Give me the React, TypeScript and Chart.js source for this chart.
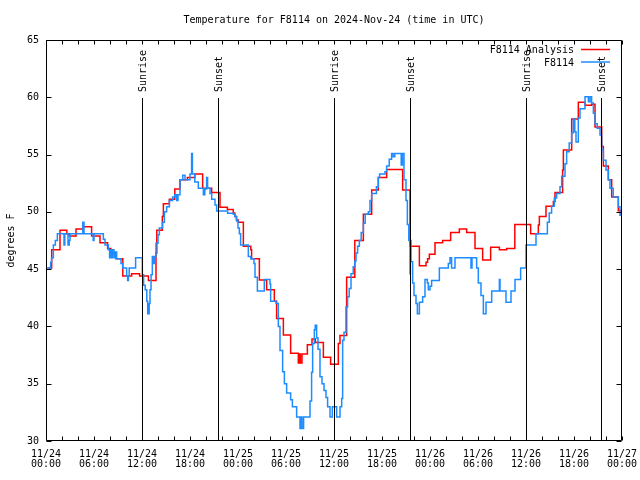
import React, { useEffect, useRef } from 'react';
import { Chart, registerables } from 'chart.js';

Chart.register(...registerables);

const chartTitle = 'Temperature for F8114 on 2024-Nov-24 (time in UTC)';
const yAxisTitle = 'degrees F';
const analysisName = 'F8114 Analysis';
const stationName = 'F8114';

// hours since 11/24 00:00 UTC
const analysisHours = [0.3, 0.71, 1.75, 2.6, 2.9, 3.75, 4.6, 5.7, 6.75, 7.7, 8.1, 8.75, 9.6, 10.7, 11.7, 12.8, 13.75, 13.85, 14.54, 14.67, 15.42, 16.1, 16.75, 17.67, 18.6, 19.58, 20.71, 21.75, 22.67, 23.4, 23.6, 23.8, 24.04, 24.67, 25.6, 25.7, 26.67, 27.58, 28.54, 28.83, 29.67, 30.58, 31.54, 31.7, 31.8, 32.0, 32.67, 33.25, 33.67, 34.67, 35.58, 36.54, 36.75, 37.58, 38.6, 39.67, 40.71, 41.54, 42.58, 44.58, 45.5, 46.67, 47.5, 47.7, 47.92, 48.625, 49.58, 50.58, 51.67, 52.58, 53.625, 54.58, 55.58, 56.67, 57.58, 58.6, 60.58, 61.54, 61.67, 62.5, 63.42, 63.625, 64.58, 64.67, 65.71, 66.54, 67.4, 68.2, 68.625, 69.46, 69.67, 70.29, 70.71, 71.54, 71.875, 72];
const analysisTemps = [45.1, 46.7, 48.4, 48.1, 47.9, 48.5, 48.7, 47.9, 47.3, 46.8, 46.4, 45.9, 44.4, 44.6, 44.4, 44.0, 46.4, 48.4, 49.6, 50.7, 51.1, 52.0, 52.8, 53.0, 53.3, 52.05, 51.7, 50.4, 50.2, 49.9, 49.6, 49.3, 49.1, 47.0, 46.7, 45.9, 44.05, 43.2, 42.2, 40.7, 39.25, 37.65, 36.8, 37.6, 36.8, 37.6, 38.4, 38.9, 38.6, 37.3, 36.7, 38.5, 39.2, 44.3, 47.5, 49.8, 51.9, 53.0, 53.7, 51.9, 47.0, 45.3, 45.6, 45.9, 46.3, 47.3, 47.5, 48.2, 48.5, 48.2, 46.8, 45.8, 46.9, 46.7, 46.8, 48.9, 48.1, 48.85, 49.6, 50.5, 50.9, 51.7, 53.65, 55.4, 58.1, 59.56, 59.3, 59.4, 57.4, 55.7, 54.0, 52.8, 51.3, 50.1, 49.7, 49.7];

const stationHours = [0, 0.58, 0.7, 0.92, 1.17, 1.42, 2.25, 2.35, 2.75, 2.9, 3.0, 4.6, 4.75, 5.9, 6.0, 7.17, 7.375, 7.79, 7.95, 8.05, 8.2, 8.3, 8.5, 8.6, 8.83, 9.375, 9.58, 10.08, 10.2, 10.3, 10.4, 11.2, 12.04, 12.2, 12.4, 12.6, 12.71, 12.9, 13.0, 13.13, 13.29, 13.45, 13.6, 13.75, 14.0, 14.17, 14.58, 14.8, 15.08, 15.42, 15.83, 16.1, 16.33, 16.5, 16.75, 17.1, 17.375, 18.0, 18.2, 18.3, 18.6, 19.04, 19.67, 19.85, 20.08, 20.2, 20.5, 20.71, 21.125, 21.33, 22.7, 23.42, 23.6, 23.83, 24.0, 24.17, 24.33, 25.29, 25.6, 26.0, 26.125, 26.42, 27.29, 28.0, 28.08, 28.75, 29.04, 29.25, 29.58, 29.8, 30.08, 30.58, 30.8, 31.33, 31.75, 31.9, 32.0, 32.2, 33.0, 33.2, 33.33, 33.54, 33.65, 33.83, 34.0, 34.25, 34.5, 34.75, 35.0, 35.2, 35.5, 35.79, 36.33, 36.75, 36.96, 37.08, 37.25, 37.5, 37.7, 37.9, 38.125, 38.4, 38.6, 38.75, 38.95, 39.17, 39.4, 39.67, 39.9, 40.29, 40.5, 40.71, 41.3, 41.54, 41.7, 42.375, 42.58, 42.9, 43.2, 43.4, 43.6, 44.4, 44.55, 44.75, 45.0, 45.17, 45.35, 45.5, 45.54, 45.63, 45.83, 46.0, 46.25, 46.42, 46.67, 47.08, 47.375, 47.67, 47.79, 48.0, 48.2, 49.17, 50.29, 50.5, 50.7, 51.125, 53.125, 53.25, 53.83, 54.04, 54.375, 54.67, 55.0, 55.71, 56.67, 56.75, 57.5, 58.125, 58.625, 59.33, 60.0, 61.25, 62.67, 62.9, 63.2, 63.54, 63.83, 64.25, 64.46, 64.875, 65.08, 65.4, 65.71, 65.92, 66.1, 66.25, 66.54, 66.75, 67.375, 67.8, 68.0, 68.2, 68.42, 68.625, 68.9, 69.25, 69.46, 69.67, 70.0, 70.3, 70.5, 70.9, 71.54, 71.75, 72];
const stationTemps = [45.1, 45.6, 46.0, 47.1, 47.5, 48.1, 47.1, 48.1, 47.1, 47.5, 48.1, 49.1, 48.1, 47.5, 48.1, 47.6, 47.1, 46.7, 46.0, 46.7, 46.0, 46.7, 46.0, 46.5, 45.9, 45.5, 45.1, 44.4, 44.0, 44.4, 45.1, 46.0, 44.5, 43.6, 43.2, 42.2, 41.1, 42.0, 43.2, 44.5, 46.1, 45.5, 46.1, 47.25, 48.0, 48.6, 49.1, 50.0, 50.45, 51.0, 51.3, 51.5, 51.0, 51.5, 52.8, 53.2, 52.8, 53.3, 55.1, 53.3, 52.6, 52.05, 51.5, 52.0, 53.0, 52.05, 51.6, 51.1, 50.6, 50.07, 49.87, 49.8, 49.6, 49.2, 48.6, 48.1, 47.1, 46.1, 45.9, 45.5, 44.3, 43.1, 44.1, 43.7, 42.2, 42.0, 40.0, 37.9, 36.05, 35.0, 34.2, 33.6, 33.0, 32.1, 31.1, 32.1, 31.1, 32.1, 33.5, 36.0, 38.5, 39.7, 40.1, 39.0, 38.0, 35.6, 35.0, 34.4, 33.8, 33.0, 32.1, 33.0, 32.1, 33.0, 33.7, 38.8, 39.5, 41.7, 42.6, 43.3, 44.6, 45.2, 45.7, 46.4, 47.0, 47.5, 48.2, 49.0, 49.8, 50.0, 51.0, 51.6, 52.2, 53.0, 53.3, 53.5, 54.0, 54.6, 55.1, 54.8, 55.1, 54.1, 55.1, 52.8, 51.0, 48.9, 47.5, 44.6, 47.5, 45.65, 43.8, 42.7, 42.0, 41.1, 42.1, 42.6, 44.1, 43.8, 43.2, 43.5, 44.0, 45.1, 45.5, 46.0, 45.1, 46.0, 45.1, 46.0, 45.1, 43.8, 42.7, 41.1, 42.1, 43.1, 44.1, 43.1, 42.1, 43.1, 44.1, 45.1, 47.1, 48.1, 49.1, 49.9, 50.5, 51.2, 51.6, 52.2, 53.1, 54.2, 55.25, 56.0, 56.9, 58.1, 57.0, 56.1, 58.2, 59.0, 60.05, 59.6, 60.05, 59.5, 58.6, 57.7, 57.3, 56.7, 55.4, 54.5, 53.65, 52.8, 52.05, 51.3, 50.45, 49.7, 49.7];

const sunHours = [12.04, 21.54, 36.0, 45.45, 60.0, 69.4];
const sunLabels = ['Sunrise', 'Sunset', 'Sunrise', 'Sunset', 'Sunrise', 'Sunset'];

const xTickHours = [0, 6, 12, 18, 24, 30, 36, 42, 48, 54, 60, 66, 72];
const xTickDates = ['11/24', '11/24', '11/24', '11/24', '11/25', '11/25', '11/25', '11/25', '11/26', '11/26', '11/26', '11/26', '11/27'];
const xTickTimes = ['00:00', '06:00', '12:00', '18:00', '00:00', '06:00', '12:00', '18:00', '00:00', '06:00', '12:00', '18:00', '00:00'];
const yTickValues = [30, 35, 40, 45, 50, 55, 60, 65];

const FONT_FAMILY = '"DejaVu Sans Mono", monospace';
const FONT = '10px ' + FONT_FAMILY;
const RED = '#ff0000';
const BLUE = '#1e8cff';

const gnuplotPlugin = {
  id: 'gnuplotDecor',
  afterDatasetsDraw(chart: any) {
    const { ctx, chartArea: a, scales } = chart;
    const xs = scales.x;
    const ys = scales.y;
    const L = Math.round(a.left) + 0.5;
    const R = Math.round(a.right) - 0.5;
    const T = Math.round(a.top) + 0.5;
    const B = Math.round(a.bottom) - 0.5;
    ctx.save();
    ctx.strokeStyle = '#000';
    ctx.fillStyle = '#000';
    ctx.lineWidth = 1;

    // sunrise / sunset lines and labels
    ctx.font = FONT;
    sunHours.forEach((h, i) => {
      const px = Math.round(xs.getPixelForValue(h)) + 0.5;
      ctx.beginPath();
      ctx.moveTo(px, 98);
      ctx.lineTo(px, B);
      ctx.stroke();
      ctx.save();
      ctx.translate(px + 1, 92);
      ctx.rotate(-Math.PI / 2);
      ctx.textAlign = 'left';
      ctx.textBaseline = 'middle';
      ctx.fillText(sunLabels[i], 0, 0);
      ctx.restore();
    });

    // border box
    ctx.beginPath();
    ctx.rect(L, T, R - L, B - T);
    ctx.stroke();

    // x ticks every 2h, inward at top and bottom
    ctx.beginPath();
    for (let h = 0; h <= 72; h += 2) {
      const px = Math.round(xs.getPixelForValue(h)) + 0.5;
      ctx.moveTo(px, B);
      ctx.lineTo(px, B - 4);
      ctx.moveTo(px, T);
      ctx.lineTo(px, T + 4);
    }
    // y ticks
    yTickValues.forEach((v) => {
      const py = Math.round(ys.getPixelForValue(v)) + 0.5;
      ctx.moveTo(L, py);
      ctx.lineTo(L + 5, py);
      ctx.moveTo(R, py);
      ctx.lineTo(R - 5, py);
    });
    ctx.stroke();

    // title
    ctx.textAlign = 'center';
    ctx.textBaseline = 'middle';
    ctx.fillText(chartTitle, (a.left + a.right) / 2, 20);

    // y axis title
    ctx.save();
    ctx.translate(11, (a.top + a.bottom) / 2);
    ctx.rotate(-Math.PI / 2);
    ctx.textAlign = 'center';
    ctx.textBaseline = 'middle';
    ctx.fillText(yAxisTitle, 0, 0);
    ctx.restore();

    // legend
    ctx.textAlign = 'right';
    ctx.textBaseline = 'middle';
    ctx.fillText(analysisName, 574, 50.5);
    ctx.fillText(stationName, 574, 63);
    ctx.lineWidth = 1.5;
    ctx.strokeStyle = RED;
    ctx.beginPath();
    ctx.moveTo(581, 49.5);
    ctx.lineTo(610, 49.5);
    ctx.stroke();
    ctx.strokeStyle = BLUE;
    ctx.beginPath();
    ctx.moveTo(581, 62);
    ctx.lineTo(610, 62);
    ctx.stroke();
    ctx.restore();
  },
};

export default function App() {
  const canvasRef = useRef<HTMLCanvasElement | null>(null);

  useEffect(() => {
    const canvas = canvasRef.current;
    if (!canvas) return;
    const tickFont = { family: FONT_FAMILY, size: 10, lineHeight: 1.0 };
    const chart = new Chart(canvas, {
      type: 'line',
      data: {
        datasets: [
          {
            label: stationName,
            data: stationHours.map((h, i) => ({ x: h, y: stationTemps[i] })),
            borderColor: BLUE,
            backgroundColor: BLUE,
            borderWidth: 1.5,
            pointRadius: 0,
            stepped: 'before',
            fill: false,
          },
          {
            label: analysisName,
            data: analysisHours.map((h, i) => ({ x: h, y: analysisTemps[i] })),
            borderColor: RED,
            backgroundColor: RED,
            borderWidth: 1.5,
            pointRadius: 0,
            stepped: 'before',
            fill: false,
          },
        ],
      },
      options: {
        animation: false,
        responsive: false,
        devicePixelRatio: 1,
        layout: { padding: { left: 0, right: 18, top: 40, bottom: 0 } },
        plugins: {
          legend: { display: false },
          title: { display: false },
          tooltip: { enabled: false },
        },
        scales: {
          x: {
            type: 'linear',
            min: 0,
            max: 72,
            grid: { display: false, drawTicks: false },
            border: { display: false },
            afterBuildTicks: (scale: any) => {
              scale.ticks = xTickHours.map((v) => ({ value: v }));
            },
            ticks: {
              autoSkip: false,
              maxRotation: 0,
              minRotation: 0,
              color: '#000',
              font: tickFont,
              padding: 8.5,
              callback: (value: any) => {
                const i = xTickHours.indexOf(Number(value));
                return i >= 0 ? [xTickDates[i], xTickTimes[i]] : '';
              },
            },
            afterFit: (scale: any) => {
              scale.height = 39;
              scale.paddingLeft = 0;
              scale.paddingRight = 0;
            },
          },
          y: {
            type: 'linear',
            min: 30,
            max: 65,
            grid: { display: false, drawTicks: false },
            border: { display: false },
            afterBuildTicks: (scale: any) => {
              scale.ticks = yTickValues.map((v) => ({ value: v }));
            },
            ticks: {
              color: '#000',
              font: tickFont,
              padding: 7,
            },
            afterFit: (scale: any) => {
              scale.width = 46;
              scale.paddingTop = 0;
              scale.paddingBottom = 0;
            },
          },
        },
      },
      plugins: [gnuplotPlugin],
    } as any);
    return () => chart.destroy();
  }, []);

  return (
    <div style={{ position: 'absolute', left: 0, top: 0, width: 640, height: 480, background: '#fff' }}>
      <canvas ref={canvasRef} width={640} height={480} style={{ display: 'block' }} />
    </div>
  );
}
